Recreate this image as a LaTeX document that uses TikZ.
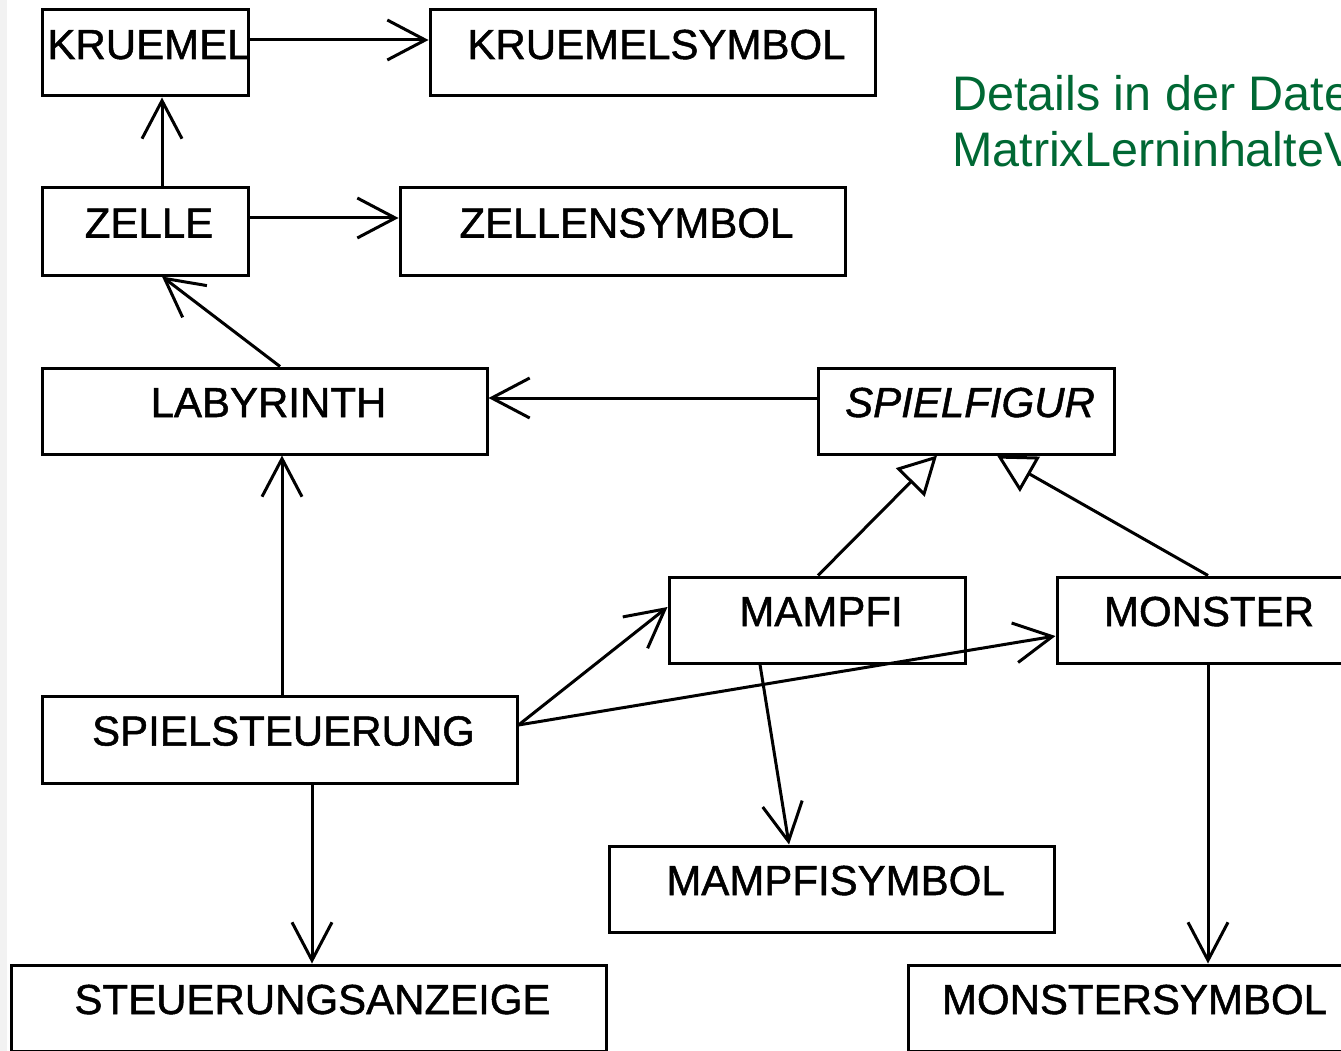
\documentclass[tikz,border=0pt]{standalone}
\usepackage{fontspec}
\setmainfont{Liberation Sans}
\newfontfamily\boxfont[FakeBold=1.2]{Liberation Sans}
\usetikzlibrary{arrows.meta}
\definecolor{notegreen}{RGB}{0,104,52}
\definecolor{stripgray}{RGB}{242,242,242}
\tikzset{
  classbox/.style={draw=black, line width=3pt, fill=white, inner sep=0pt,
    minimum height=86pt, text height=49pt, text depth=37pt,
    font=\boxfont\fontsize{42}{50}\selectfont,
    execute at begin node=\hspace*{8pt}},
  tightbox/.style={classbox, execute at begin node={}},
  assoc/.style={draw=black, line width=3pt,
    -{Straight Barb[length=38pt, width=40pt, line width=3pt]}},
  inherit/.style={draw=black, line width=3pt,
    -{Triangle[open, length=38pt, width=40pt, line width=3pt, fill=white]}},
  note/.style={text=notegreen, inner sep=0pt, anchor=base west,
    font=\fontsize{48.5}{56}\selectfont}
}
\begin{document}
\begin{tikzpicture}[x=1pt, y=-1pt]
  \path[use as bounding box] (0,0) rectangle (1341,1051);
  \clip (0,0) rectangle (1341,1051);
  \fill[white] (0,0) rectangle (1341,1051);
  \fill[stripgray] (0,0) rectangle (7,1051);

  % classes
  \node[tightbox, minimum width=206pt] (kruemel)    at (145,53)      {\makebox[0pt]{KRUEMEL}};
  \node[classbox, minimum width=445pt] (kruemelsym) at (652.5,53)    {KRUEMELSYMBOL};
  \node[classbox, minimum width=206pt, minimum height=87pt] (zelle) at (145,231.5) {ZELLE};
  \node[classbox, minimum width=445pt, minimum height=87pt] (zellensym) at (622.5,231.5) {ZELLENSYMBOL};
  \node[classbox, minimum width=445pt] (labyrinth)  at (264.5,411)   {LABYRINTH};
  \node[classbox, minimum width=296pt] (spielfigur) at (966,411)     {\itshape SPIELFIGUR};
  \node[classbox, minimum width=296pt] (mampfi)     at (817,620)     {MAMPFI};
  \node[classbox, minimum width=296pt] (monster)    at (1205,620)    {MONSTER};
  \node[classbox, minimum width=475pt, minimum height=87pt] (spielst) at (279.5,739.5) {SPIELSTEUERUNG};
  \node[classbox, minimum width=445pt] (mampfisym)  at (831.5,889)   {MAMPFISYMBOL};
  \node[classbox, minimum width=595pt] (steuanz)    at (308.5,1008)  {STEUERUNGSANZEIGE};
  \node[classbox, minimum width=445pt] (monstersym) at (1130.5,1008) {MONSTERSYMBOL};

  % note
  \node[note] (note1) at (952,111) {Details in der Date};
  \node[note] (note2) at (952,167) {MatrixLerninhalteV};

  % associations
  \draw[assoc] ([yshift=13pt]kruemel.east) -- ([yshift=13pt]kruemelsym.west);
  \draw[assoc] ([xshift=17pt]zelle.north) -- ([xshift=17pt]kruemel.south);
  \draw[assoc] ([yshift=13.5pt]zelle.east) -- ([yshift=13.5pt]zellensym.west);
  \draw[assoc] ([xshift=15.5pt]labyrinth.north) -- ([xshift=17pt]zelle.south);
  \draw[assoc] ([yshift=13pt]spielfigur.west) -- ([yshift=13pt]labyrinth.east);
  \draw[assoc] ([xshift=2.5pt]spielst.north) -- ([xshift=17.5pt]labyrinth.south);
  \draw[assoc] ([yshift=14.5pt]spielst.east) -- ([yshift=13pt]mampfi.west);
  \draw[assoc] ([yshift=14.5pt]spielst.east) -- ([yshift=-16pt]monster.west);
  \draw[assoc] ([xshift=-57pt]mampfi.south) -- ([xshift=-42.5pt]mampfisym.north);
  \draw[assoc] ([xshift=32.5pt]spielst.south) -- ([xshift=3.5pt]steuanz.north);
  \draw[assoc] ([xshift=3pt]monster.south) -- ([xshift=77.5pt]monstersym.north);

  % generalisations
  \draw[inherit] ([xshift=1pt]mampfi.north) -- ([xshift=-29pt]spielfigur.south);
  \draw[inherit] ([xshift=3pt]monster.north) -- ([xshift=31pt]spielfigur.south);
\end{tikzpicture}
\end{document}
